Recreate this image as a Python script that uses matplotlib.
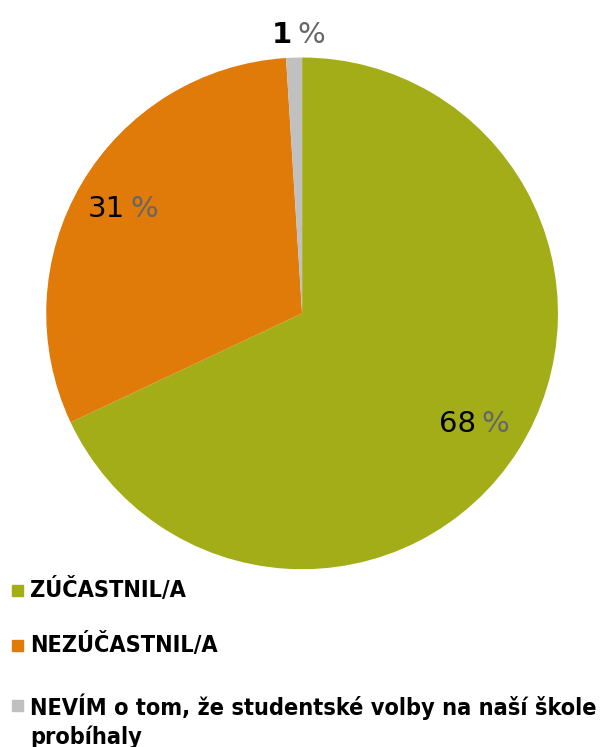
import matplotlib.pyplot as plt
import matplotlib.patches as mpatches
import numpy as np

# data
labels = ["ZÚČASTNIL/A", "NEZÚČASTNIL/A",
          "NEVÍM o tom, že studentské volby na naší škole\nprobíhaly"]
values = [68, 31, 1]
colors = ["#A3AD18", "#E07A08", "#C0C0C0"]
pct_dist = [0.81, 0.8, 1.09]

W, H = 600, 747
fig = plt.figure(figsize=(W / 100, H / 100), dpi=100)
ax = fig.add_axes([0.077, 0.238, 0.853, 0.685])
wedges, _ = ax.pie(values, colors=colors, startangle=90, counterclock=False,
                   wedgeprops=dict(linewidth=0))
ax.set_xlim(-1, 1)
ax.set_ylim(-1, 1)
ax.set_aspect('equal')

# percentage labels: number black, % sign grey
for w, v, d in zip(wedges, values, pct_dist):
    ang = np.deg2rad((w.theta1 + w.theta2) / 2)
    x, y = d * np.cos(ang), d * np.sin(ang)
    bold = 'bold' if v == 1 else 'normal'
    ax.annotate(str(v), (x, y), xytext=(-1, 0), textcoords='offset points',
                ha='right', va='center', fontsize=21, color='black',
                fontweight=bold, family='DejaVu Sans', annotation_clip=False)
    ax.annotate("%", (x, y), xytext=(3, 0), textcoords='offset points',
                ha='left', va='center', fontsize=21, color='#666666',
                family='DejaVu Sans', annotation_clip=False)

# legend built by hand so the marker sits on the first text line
leg_y = [590, 645, 705]  # pixel rows from top
for lab, c, yp in zip(labels, colors, leg_y):
    fy = 1 - yp / H
    sq = 11
    fig.add_artist(mpatches.Rectangle((12 / W, fy - sq / 2 / H), sq / W, sq / H,
                                      color=c, transform=fig.transFigure))
    fig.text(30 / W, fy + 12 / H, lab, ha='left', va='top', family='DejaVu Sans',
             weight='bold', stretch='condensed', size=16.8, linespacing=1.3)

fig.savefig("out.png", dpi=100)
